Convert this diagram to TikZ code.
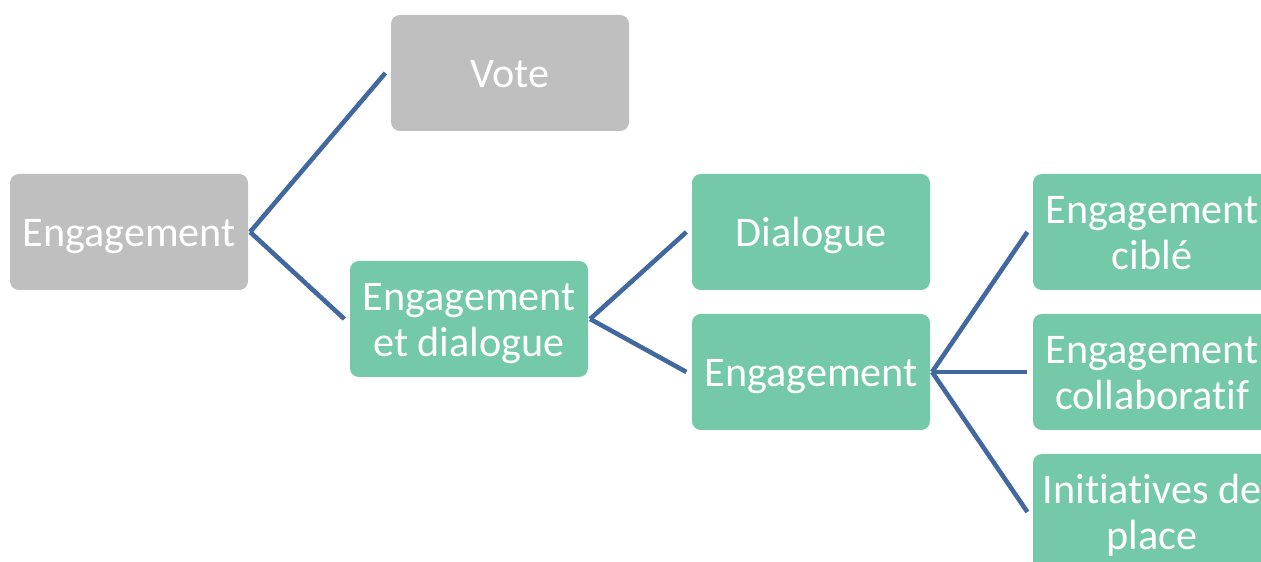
\documentclass[tikz,border=0pt]{standalone}
\usepackage{fontspec}
\setmainfont[Ligatures=NoCommon]{Carlito}
\definecolor{boxgray}{RGB}{191,191,191}
\definecolor{boxgreen}{RGB}{116,201,168}
\definecolor{linkblue}{RGB}{66,104,160}
\newcommand{\boxstrut}{\rule[-6.5pt]{0pt}{29.3pt}}
\begin{document}
\begin{tikzpicture}[every node/.style={rounded corners=5pt, minimum width=4.76cm, minimum height=2.32cm, inner sep=0pt, align=center, text=white, font=\fontsize{24}{26.5}\selectfont, execute at begin node=\boxstrut, execute at end node=\boxstrut}, link/.style={draw=linkblue, line width=2.6pt}]
\useasboundingbox (0,0) rectangle (25.22,-11.24);
\clip (0,0) rectangle (25.22,-11.24);
\node[fill=boxgray] (L0N0) at (2.58,-4.64) {Engagement};
\node[fill=boxgray] (L1N0) at (10.2,-1.46) {Vote};
\node[fill=boxgreen] (L1N1) at (9.38,-6.38) {\boxstrut Engagement\\et dialogue};
\node[fill=boxgreen] (L2N0) at (16.22,-4.64) {Dialogue};
\node[fill=boxgreen] (L2N1) at (16.22,-7.44) {Engagement};
\node[fill=boxgreen] (L3N0) at (23.04,-4.64) {\boxstrut Engagement\\ciblé};
\node[fill=boxgreen] (L3N1) at (23.04,-7.44) {\boxstrut Engagement\\collaboratif};
\node[fill=boxgreen] (L3N2) at (23.04,-10.24) {\boxstrut Initiatives de\\place};
\draw[link] ([xshift=1pt]L0N0.east) -- ([xshift=-3pt]L1N0.west);
\draw[link] ([xshift=1pt]L0N0.east) -- ([xshift=-3pt]L1N1.west);
\draw[link] ([xshift=1pt]L1N1.east) -- ([xshift=-3pt]L2N0.west);
\draw[link] ([xshift=1pt]L1N1.east) -- ([xshift=-3pt]L2N1.west);
\draw[link] ([xshift=1pt]L2N1.east) -- ([xshift=-3pt]L3N0.west);
\draw[link] ([xshift=1pt]L2N1.east) -- ([xshift=-3pt]L3N1.west);
\draw[link] ([xshift=1pt]L2N1.east) -- ([xshift=-3pt]L3N2.west);
\end{tikzpicture}
\end{document}
